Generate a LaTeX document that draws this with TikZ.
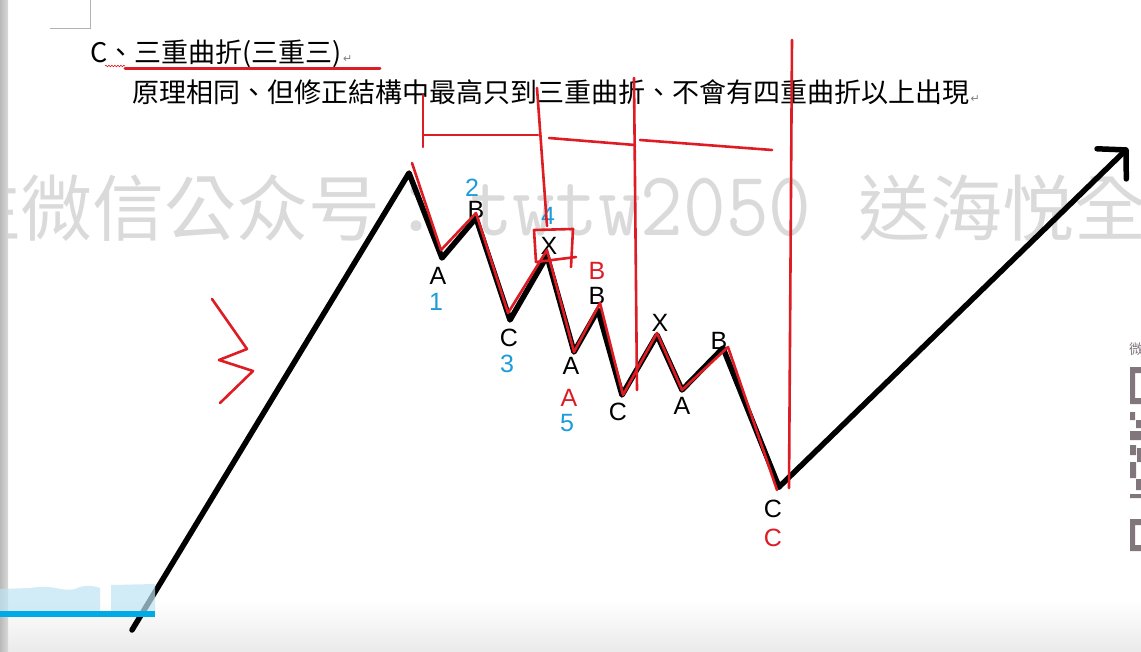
\documentclass[tikz,border=0pt]{standalone}
\usepackage{fontspec}
\usepackage{graphicx}
\setmainfont{Liberation Sans}
\newfontfamily\cjk{Noto Sans CJK TC}
\newfontfamily\symfont{DejaVu Sans}
\usetikzlibrary{arrows.meta,decorations.pathmorphing}
\definecolor{penred}{RGB}{222,28,36}
\definecolor{numblue}{RGB}{28,156,218}
\definecolor{markgray}{RGB}{218,218,218}
\definecolor{barblue}{RGB}{0,170,230}
\definecolor{paleblue}{RGB}{190,228,244}
\definecolor{qrgray}{RGB}{128,118,124}
\begin{document}
\begin{tikzpicture}[x=1pt,y=-1pt,
  wave/.style={line width=5.5pt, line join=round, line cap=round},
  pen/.style={penred, line width=2.6pt, line join=round, line cap=round},
  lbl/.style={inner sep=0pt, font=\fontsize{25}{25}\selectfont},
  rlbl/.style={lbl, text=penred},
  blbl/.style={lbl, text=numblue},
  txt/.style={anchor=base west, inner sep=0pt, font=\cjk\fontsize{27}{27}\selectfont},
  pmark/.style={anchor=base west, inner sep=1pt, text=gray, font=\symfont\fontsize{11}{11}\selectfont},
  wmark/.style={anchor=base west, inner sep=0pt, text=markgray}]
  \useasboundingbox (0,0) rectangle (1141,651);
  \begin{scope}
    \clip (0,0) rectangle (1141,651);
    \fill[white] (0,0) rectangle (1141,651);
    \shade[top color=white, bottom color=gray!16] (0,600) rectangle (1141,651);
    \node[wmark, font=\cjk\fontsize{72}{72}\selectfont] (wmleft) at (-52,235) {注微信公众号：};
    \node[wmark, font=\ttfamily\fontsize{92}{92}\selectfont] (wmid) at (470,235) {\scalebox{0.9}[1]{twtw2050}};
    \node[wmark, font=\cjk\fontsize{72}{72}\selectfont] (wmright) at (858,235) {送海悦全};
    \shade[left color=gray!55, right color=gray!30] (0,0) rectangle (8,651);
  \end{scope}
  \draw[gray!60, line width=0.8pt] (50,28) -- (90,28) -- (90,0);

  \node[txt] (title) at (90,62) {C、三重曲折(三重三)};
  \node[pmark] at (title.base east) {↵};
  \node[txt] (rule) at (132,102) {原理相同、但修正結構中最高只到三重曲折、不會有四重曲折以上出現};
  \node[pmark] at (rule.base east) {↵};
  \draw[penred, line width=0.6pt, decorate, decoration={snake, amplitude=0.8pt, segment length=3pt}] (105,66) -- (125,66);
  \draw[pen, line width=3pt] (125,68) -- (380,68);

  \coordinate (start) at (132,630);
  \coordinate (top) at (409,173);
  \coordinate (w1) at (442,258);
  \coordinate (w2) at (476,218);
  \coordinate (w3) at (510,320);
  \coordinate (w4) at (547,256);
  \coordinate (w5) at (574,352);
  \coordinate (w6) at (598,310);
  \coordinate (w7) at (622,395);
  \coordinate (w8) at (657,335);
  \coordinate (w9) at (682,390);
  \coordinate (w10) at (723,348);
  \coordinate (low) at (779,487);
  \coordinate (goal) at (1128,148);
  \draw[wave] (start) -- (top) -- (w1) -- (w2) -- (w3) -- (w4) -- (w5) -- (w6) -- (w7) -- (w8) -- (w9) -- (w10) -- (low);
  \draw[wave, -{Straight Barb[length=20pt, width=42pt, round]}] (low) -- (goal);

  \node[blbl] (n2) at (472,188) {2};
  \node[lbl] (b1) at (476,210) {B};
  \node[lbl] (a1) at (438,276) {A};
  \node[blbl] (n1) at (436,302) {1};
  \node[lbl] (c1) at (509,338) {C};
  \node[blbl] (n3) at (507,364) {3};
  \node[blbl] (n4) at (548,216) {4};
  \node[lbl] (x1) at (549,246) {X};
  \node[rlbl] (rb) at (597,271) {B};
  \node[lbl] (b2) at (597,296) {B};
  \node[lbl] (a2) at (571,366) {A};
  \node[rlbl] (ra) at (569,398) {A};
  \node[blbl] (n5) at (567,423) {5};
  \node[lbl] (c2) at (618,412) {C};
  \node[lbl] (x2) at (660,323) {X};
  \node[lbl] (a3) at (682,406) {A};
  \node[lbl] (b3) at (719,341) {B};
  \node[lbl] (c3) at (773,509) {C};
  \node[rlbl] (rc) at (773,538) {C};

  \draw[pen] (412,163) -- (441,250) -- (476,213) -- (508,313) -- (547,250) -- (574,352) -- (600,303) -- (623,395) -- (657,333) -- (682,390) -- (728,347) -- (777,490);
  \draw[pen] (536,262) -- (534,230) -- (573,229) -- (571,267);
  \draw[pen] (536,262) -- (576,257);
  \draw[pen] (423,95) -- (423,147);
  \draw[pen] (423,135) -- (538,135);
  \draw[pen] (537,88) -- (547,226);
  \draw[pen] (549,138) -- (635,145);
  \draw[pen] (634,78) -- (637,390);
  \draw[pen] (640,140) -- (772,150);
  \draw[pen] (792,40) -- (789,488);
  \draw[pen] (212,299) -- (247,349) -- (219,360) -- (253,371) -- (220,403);

  \node[inner sep=0pt, text=qrgray, font=\cjk\fontsize{14}{14}\selectfont] (qrtag) at (1136,349) {微};
  \fill[qrgray, even odd rule] (1130,367) rectangle (1141,404) (1135,373) rectangle (1141,398);
  \fill[qrgray, even odd rule] (1130,519) rectangle (1141,551) (1135,525) rectangle (1141,545);
  \fill[qrgray] (1130,412) rectangle (1135,420) (1136,420) rectangle (1141,428) (1130,431) rectangle (1141,440)
    (1130,445) rectangle (1136,455) (1137,448) rectangle (1141,462) (1130,462) rectangle (1136,478)
    (1136,479) rectangle (1141,490) (1130,494) rectangle (1141,498);

  \fill[paleblue, fill opacity=0.7] (0,589) -- (30,588) .. controls (55,584) and (60,592) .. (75,589) .. controls (85,584) and (95,586) .. (100,588) -- (100,611) -- (0,611) -- cycle;
  \fill[paleblue, fill opacity=0.7] (111,585) -- (155,584) -- (155,611) -- (111,611) -- cycle;
  \fill[barblue] (0,611) rectangle (155,617);
\end{tikzpicture}
\end{document}
